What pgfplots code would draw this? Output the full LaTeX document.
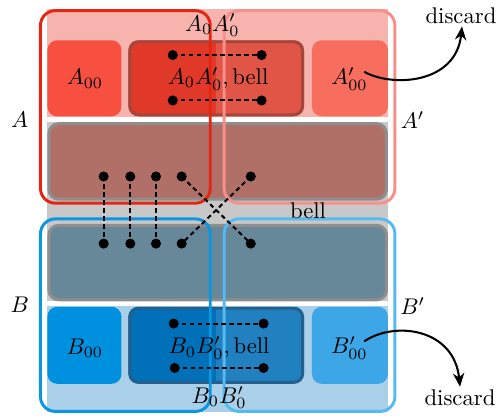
\documentclass[border=0pt]{standalone}
\usepackage{pgfplots}
\pgfplotsset{compat=1.18}
\usetikzlibrary{arrows.meta}
\definecolor{bggray}{HTML}{C8C8C8}
\definecolor{pinkband}{HTML}{F7B4AF}
\definecolor{blueband}{HTML}{A9D0E8}
\definecolor{rowtwo}{HTML}{B07068}
\definecolor{rowthree}{HTML}{678899}
\definecolor{rowborder}{HTML}{8E8E8E}
\definecolor{aoo}{HTML}{F85040}
\definecolor{amidl}{HTML}{E0392A}
\definecolor{amidr}{HTML}{E05545}
\definecolor{amidb}{HTML}{A5463D}
\definecolor{apoo}{HTML}{F86E5E}
\definecolor{boo}{HTML}{0090E0}
\definecolor{bmidl}{HTML}{0070B8}
\definecolor{bmidr}{HTML}{2080C0}
\definecolor{bmidb}{HTML}{245F8E}
\definecolor{bpoo}{HTML}{3CA6E6}
\definecolor{Aline}{HTML}{E52412}
\definecolor{Apline}{HTML}{F88F8A}
\definecolor{Bline}{HTML}{0A96E0}
\definecolor{Bpline}{HTML}{55B9F2}
\begin{document}
\begin{tikzpicture}
\begin{axis}[scale only axis, width=219.13pt, height=182.6pt,
  xmin=0, xmax=504, ymin=0, ymax=420, y dir=reverse, hide axis, clip=false]
\path (axis cs:0,0) rectangle (axis cs:504,420);
% backgrounds
\fill[bggray] (axis cs:48,6) rectangle (axis cs:393,415);
\fill[pinkband] (axis cs:48,6) rectangle (axis cs:393,117);
\fill[blueband] (axis cs:48,306) rectangle (axis cs:393,415);
\fill[white] (axis cs:48,116) rectangle (axis cs:393,121);
\fill[white] (axis cs:48,302) rectangle (axis cs:393,307);
% row 2 and row 3
\filldraw[fill=rowtwo, draw=rowborder, line width=1.3pt, rounded corners=4.3pt] (axis cs:49.5,122.5) rectangle (axis cs:391.5,199);
\filldraw[fill=rowthree, draw=rowborder, line width=1.3pt, rounded corners=4.3pt] (axis cs:49.5,225.5) rectangle (axis cs:391.5,301);
% row 1
\fill[aoo, rounded corners=4.3pt] (axis cs:48,38) rectangle (axis cs:123,115);
\fill[amidl] (axis cs:219,38) [rounded corners=4.3pt]-- (axis cs:130,38) -- (axis cs:130,115) [sharp corners]-- (axis cs:219,115) -- cycle;
\fill[amidr] (axis cs:219,38) [rounded corners=4.3pt]-- (axis cs:308,38) -- (axis cs:308,115) [sharp corners]-- (axis cs:219,115) -- cycle;
\draw[amidb, line width=1.3pt, rounded corners=4pt] (axis cs:131.5,39.5) rectangle (axis cs:306.5,113.5);
\fill[apoo, rounded corners=4.3pt] (axis cs:316,38) rectangle (axis cs:393,115);
% row 4
\fill[boo, rounded corners=4.3pt] (axis cs:48,308) rectangle (axis cs:123,386);
\fill[bmidl] (axis cs:219,308) [rounded corners=4.3pt]-- (axis cs:130,308) -- (axis cs:130,386) [sharp corners]-- (axis cs:219,386) -- cycle;
\fill[bmidr] (axis cs:219,308) [rounded corners=4.3pt]-- (axis cs:308,308) -- (axis cs:308,386) [sharp corners]-- (axis cs:219,386) -- cycle;
\draw[bmidb, line width=1.3pt, rounded corners=4pt] (axis cs:131.5,309.5) rectangle (axis cs:306.5,384.5);
\fill[bpoo, rounded corners=4.3pt] (axis cs:316,308) rectangle (axis cs:393,386);
% outlines
\draw[Aline, line width=1.3pt, rounded corners=6.5pt] (axis cs:41,8) rectangle (axis cs:213,203);
\draw[Apline, line width=1.3pt, rounded corners=6.5pt] (axis cs:227,8) rectangle (axis cs:400,203);
\draw[Bline, line width=1.3pt, rounded corners=6.5pt] (axis cs:41,219) rectangle (axis cs:213,414);
\draw[Bpline, line width=1.3pt, rounded corners=6.5pt] (axis cs:227,219) rectangle (axis cs:400,414);
% dashed connections
\addplot[black, no markers, line width=0.9pt, dash pattern=on 2pt off 1.5pt] coordinates {(175,53) (265,53)};
\addplot[black, no markers, line width=0.9pt, dash pattern=on 2pt off 1.5pt] coordinates {(175,99) (265,99)};
\addplot[black, no markers, line width=0.9pt, dash pattern=on 2pt off 1.5pt] coordinates {(176,325) (267,325)};
\addplot[black, no markers, line width=0.9pt, dash pattern=on 2pt off 1.5pt] coordinates {(177,370) (267,370)};
\addplot[black, no markers, line width=0.9pt, dash pattern=on 2pt off 1.5pt] coordinates {(105,176) (105,244)};
\addplot[black, no markers, line width=0.9pt, dash pattern=on 2pt off 1.5pt] coordinates {(132,176) (132,244)};
\addplot[black, no markers, line width=0.9pt, dash pattern=on 2pt off 1.5pt] coordinates {(158,176) (158,244)};
\addplot[black, no markers, line width=0.9pt, dash pattern=on 2pt off 1.5pt] coordinates {(184,176) (254,244)};
\addplot[black, no markers, line width=0.9pt, dash pattern=on 2pt off 1.5pt] coordinates {(254,176) (184,244)};
\addplot[black, only marks, mark=*, mark size=2pt] coordinates {
(175,53) (265,53) (175,99) (265,99)
(176,325) (267,325) (177,370) (267,370)
(105,176) (132,176) (158,176) (184,176) (254,176)
(105,244) (132,244) (158,244) (184,244) (254,244)};
% labels
\node at (axis cs:86,77) {$A_{00}$};
\node at (axis cs:221,77) {$A_0A'_0,\mathrm{bell}$};
\node at (axis cs:354,77) {$A'_{00}$};
\node at (axis cs:86,350) {$B_{00}$};
\node at (axis cs:222,350) {$B_0B'_0,\mathrm{bell}$};
\node at (axis cs:354,350) {$B'_{00}$};
\node at (axis cs:215,23) {$A_0A'_0$};
\node at (axis cs:222,400) {$B_0B'_0$};
\node at (axis cs:312,211) {bell};
\node at (axis cs:20,119) {$A$};
\node at (axis cs:418,119) {$A'$};
\node at (axis cs:20,306) {$B$};
\node at (axis cs:418,307) {$B'$};
\node at (axis cs:467,13) {discard};
\node at (axis cs:466,400) {discard};
% arrows
\draw[line width=0.9pt, -{Stealth[length=6pt, width=5pt]}] (axis cs:369,70) .. controls (axis cs:398,86) and (axis cs:462,82) .. (axis cs:468,24);
\draw[line width=0.9pt, -{Stealth[length=6pt, width=5pt]}] (axis cs:369,343) .. controls (axis cs:400,322) and (axis cs:460,330) .. (axis cs:466,389);
\end{axis}
\end{tikzpicture}
\end{document}
